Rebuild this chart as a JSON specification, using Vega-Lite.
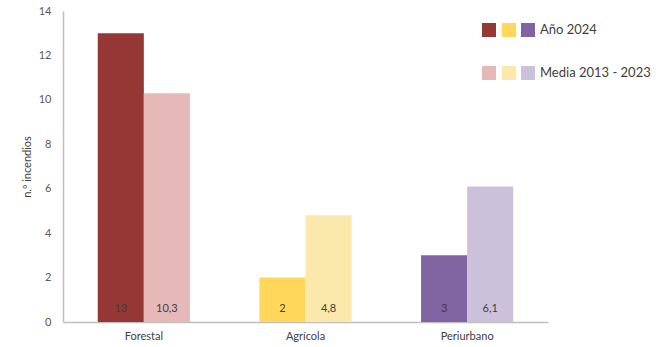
{
  "$schema": "https://vega.github.io/schema/vega-lite/v6.json",
  "width": 485,
  "height": 311,
  "autosize": "none",
  "padding": {"left": 63, "top": 11, "right": 123, "bottom": 25},
  "config": {
    "view": {"stroke": null},
    "font": "Lato",
    "axis": {"labelFont": "Lato", "titleFont": "Lato", "labelColor": "#595959", "titleColor": "#404040", "domainColor": "#BFBFBF", "domainWidth": 1.5, "ticks": false, "grid": false},
    "legend": {"labelFont": "Lato", "labelFontSize": 13, "labelColor": "#404040", "padding": 0}
  },
  "data": {
    "values": [
      {"cat": "Forestal", "serie": "Año 2024", "value": 13, "label": "13"},
      {"cat": "Forestal", "serie": "Media 2013 - 2023", "value": 10.3, "label": "10,3"},
      {"cat": "Agrícola", "serie": "Año 2024", "value": 2, "label": "2"},
      {"cat": "Agrícola", "serie": "Media 2013 - 2023", "value": 4.8, "label": "4,8"},
      {"cat": "Periurbano", "serie": "Año 2024", "value": 3, "label": "3"},
      {"cat": "Periurbano", "serie": "Media 2013 - 2023", "value": 6.1, "label": "6,1"}
    ]
  },
  "encoding": {
    "x": {"field": "cat", "type": "nominal", "title": null,
      "scale": {"domain": ["Forestal", "Agrícola", "Periurbano"], "paddingInner": 0.43, "paddingOuter": 0.215},
      "axis": {"labelAngle": 0, "labelFontSize": 11, "labelPadding": 8, "labelColor": "#404040"}},
    "xOffset": {"field": "serie", "type": "nominal", "scale": {"paddingInner": 0}},
    "y": {"field": "value", "type": "quantitative", "title": "n.º incendios",
      "scale": {"domain": [0, 14]},
      "axis": {"values": [0, 2, 4, 6, 8, 10, 12, 14], "labelFontSize": 11, "labelPadding": 12, "titleFontSize": 11, "titleFontWeight": "normal", "titlePadding": 6}}
  },
  "layer": [
    {
      "transform": [{"filter": "datum.cat === 'Forestal'"}],
      "mark": {"type": "bar"},
      "encoding": {
        "color": {"field": "serie", "type": "nominal",
          "scale": {"domain": ["Año 2024", "Media 2013 - 2023"], "range": ["#953735", "#E6B9B8"]},
          "legend": {"title": null, "orient": "none", "legendX": 419, "legendY": 12, "symbolType": "square", "symbolSize": 196, "symbolStrokeWidth": 0, "labelExpr": "''", "rowPadding": 29, "labelOffset": 0}}
      }
    },
    {
      "transform": [{"filter": "datum.cat === 'Agrícola'"}],
      "mark": {"type": "bar"},
      "encoding": {
        "color": {"field": "serie", "type": "nominal",
          "scale": {"domain": ["Año 2024", "Media 2013 - 2023"], "range": ["#FFD75A", "#FAE9AA"]},
          "legend": {"title": null, "orient": "none", "legendX": 439, "legendY": 12, "symbolType": "square", "symbolSize": 196, "symbolStrokeWidth": 0, "labelExpr": "''", "rowPadding": 29, "labelOffset": 0}}
      }
    },
    {
      "transform": [{"filter": "datum.cat === 'Periurbano'"}],
      "mark": {"type": "bar"},
      "encoding": {
        "color": {"field": "serie", "type": "nominal",
          "scale": {"domain": ["Año 2024", "Media 2013 - 2023"], "range": ["#8064A2", "#CCC1DA"]},
          "legend": {"title": null, "orient": "none", "legendX": 458, "legendY": 12, "symbolType": "square", "symbolSize": 196, "symbolStrokeWidth": 0, "rowPadding": 29, "labelOffset": 5,
            "encode": {"symbols": {"update": {"fill": {"signal": "datum.value === 'Año 2024' ? '#5F497A' : '#CCC1DA'"}}}}}}
      }
    },
    {
      "mark": {"type": "text", "baseline": "middle", "dy": -13, "fontSize": 11, "color": "#404040"},
      "encoding": {
        "y": {"datum": 0, "type": "quantitative"},
        "text": {"field": "label", "type": "nominal"}
      }
    }
  ],
  "resolve": {"scale": {"color": "independent"}, "legend": {"color": "independent"}}
}
